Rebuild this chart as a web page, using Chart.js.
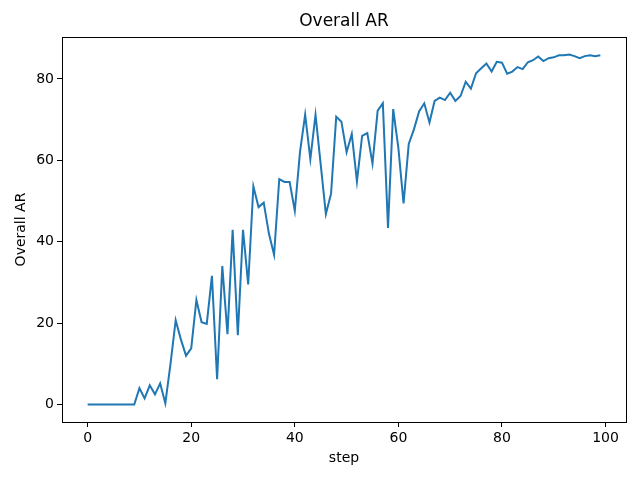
<!DOCTYPE html>
<html>
<head>
<meta charset="utf-8">
<script src="https://cdn.jsdelivr.net/npm/chart.js@4"></script>
<style>
  html, body { margin: 0; padding: 0; background: #fff; }
  #wrap { width: 640px; height: 480px; }
</style>
</head>
<body>
<div id="wrap"><canvas id="arChart" width="640" height="480"></canvas></div>
<script>
// Overall AR per training step
var steps = [];
for (var s = 0; s < 100; s++) steps.push(s);

var overallAR = [
  0, 0, 0, 0, 0, 0, 0, 0, 0, 0,
  4.0, 1.5, 4.7, 2.5, 5.2, 0.3, 10.0, 20.7, 16.0, 12.0,
  13.8, 25.7, 20.2, 19.8, 31.6, 6.2, 34.0, 17.3, 42.9, 17.0,
  42.9, 29.5, 53.6, 48.5, 49.6, 42.0, 36.8, 55.4, 54.7, 54.7,
  47.6, 62.0, 71.2, 60.3, 71.2, 59.0, 46.8, 51.8, 70.7, 69.5,
  62.0, 66.5, 54.8, 66.0, 66.7, 59.2, 72.2, 74.0, 43.4, 72.6,
  63.0, 49.4, 64.0, 67.6, 72.0, 74.0, 69.3, 74.6, 75.4, 74.8,
  76.6, 74.6, 75.8, 79.3, 77.6, 81.4, 82.6, 83.8, 81.8, 84.2,
  84.0, 81.3, 81.8, 82.9, 82.4, 84.1, 84.6, 85.5, 84.4, 85.1,
  85.3, 85.8, 85.8, 86.0, 85.6, 85.1, 85.6, 85.8, 85.6, 85.8
];

var xTicks = [0, 20, 40, 60, 80, 100];
var yTicks = [0, 20, 40, 60, 80];

var FONT = 'DejaVu Sans';

// Title, axis labels and the box around the plot
var framePlugin = {
  id: 'frame',
  afterDraw: function(chart) {
    var ctx = chart.ctx;
    var a = chart.chartArea;
    ctx.save();
    ctx.strokeStyle = '#000';
    ctx.lineWidth = 1;
    ctx.strokeRect(Math.round(a.left) + 0.5, Math.round(a.top) + 0.5,
      Math.round(a.right - a.left), Math.round(a.bottom - a.top));
    ctx.fillStyle = '#000';
    ctx.textAlign = 'center';
    ctx.textBaseline = 'middle';
    ctx.font = '17px "' + FONT + '"';
    ctx.fillText('Overall AR', (a.left + a.right) / 2, 22);
    ctx.font = '14px "' + FONT + '"';
    ctx.fillText('step', (a.left + a.right) / 2, 458);
    ctx.translate(21, (a.top + a.bottom) / 2);
    ctx.rotate(-Math.PI / 2);
    ctx.fillText('Overall AR', 0, 0);
    ctx.restore();
  }
};

new Chart(document.getElementById('arChart').getContext('2d'), {
  type: 'line',
  data: {
    labels: steps,
    datasets: [{
      data: overallAR.map(function(v, i) { return { x: steps[i], y: v }; }),
      borderColor: '#1f77b4',
      borderWidth: 2,
      pointRadius: 0,
      tension: 0,
      fill: false
    }]
  },
  options: {
    responsive: false,
    animation: false,
    layout: { padding: { left: 0, top: 37, right: 14, bottom: 0 } },
    plugins: { legend: { display: false }, tooltip: { enabled: false }, title: { display: false } },
    scales: {
      x: {
        type: 'linear',
        min: -4.95,
        max: 103.95,
        afterFit: function(scale) { scale.height = 58; },
        afterBuildTicks: function(scale) { scale.ticks = xTicks.map(function(v) { return { value: v }; }); },
        grid: { drawOnChartArea: false, drawTicks: true, tickLength: 5, color: '#000' },
        border: { display: false },
        ticks: { color: '#000', padding: 3, maxRotation: 0, font: { family: FONT, size: 14 } }
      },
      y: {
        min: -4.3,
        max: 90.3,
        afterFit: function(scale) { scale.width = 62; },
        afterBuildTicks: function(scale) { scale.ticks = yTicks.map(function(v) { return { value: v }; }); },
        grid: { drawOnChartArea: false, drawTicks: true, tickLength: 5, color: '#000' },
        border: { display: false },
        ticks: { color: '#000', padding: 3, font: { family: FONT, size: 14 } }
      }
    }
  },
  plugins: [framePlugin]
});
</script>
</body>
</html>
